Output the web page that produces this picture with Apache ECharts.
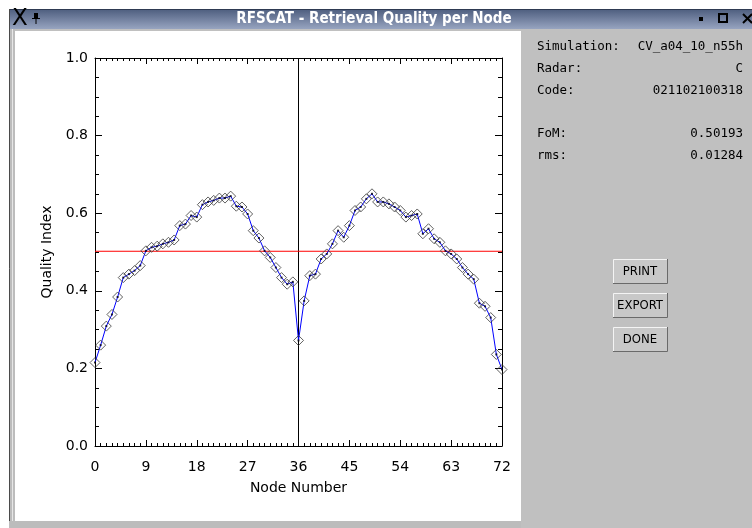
<!DOCTYPE html>
<html>
<head>
<meta charset="utf-8">
<title>RFSCAT - Retrieval Quality per Node</title>
<script src="https://cdn.jsdelivr.net/npm/echarts@6.0.0/dist/echarts.min.js"></script>
<style>
html, body { margin: 0; padding: 0; background: #fff; }
#main { width: 752px; height: 528px; }
</style>
</head>
<body>
<div id="main"></div>
<script>
// node numbers and quality index per node
var nodes = [0, 1, 2, 3, 4, 5, 6, 7, 8, 9, 10, 11, 12, 13, 14, 15, 16, 17, 18,
    19, 20, 21, 22, 23, 24, 25, 26, 27, 28, 29, 30, 31, 32, 33, 34, 35, 36,
    37, 38, 39, 40, 41, 42, 43, 44, 45, 46, 47, 48, 49, 50, 51, 52, 53, 54,
    55, 56, 57, 58, 59, 60, 61, 62, 63, 64, 65, 66, 67, 68, 69, 70, 71, 72];
var quality = [0.215, 0.260, 0.309, 0.339, 0.384, 0.434, 0.443, 0.452, 0.465, 0.503,
    0.512, 0.515, 0.521, 0.525, 0.531, 0.568, 0.572, 0.594, 0.590, 0.622,
    0.629, 0.633, 0.639, 0.639, 0.644, 0.618, 0.616, 0.598, 0.555, 0.536,
    0.503, 0.486, 0.460, 0.434, 0.417, 0.423, 0.272,
    0.374, 0.439, 0.443, 0.482, 0.495, 0.521, 0.555, 0.538, 0.568, 0.607,
    0.616, 0.637, 0.650, 0.629, 0.629, 0.624, 0.616, 0.607, 0.590, 0.594,
    0.598, 0.547, 0.560, 0.534, 0.525, 0.503, 0.495, 0.482, 0.460, 0.443,
    0.430, 0.368, 0.360, 0.331, 0.236, 0.197];

var fom = 0.50193;       // red reference line
var splitNode = 36;      // black vertical line
var xStep = 9;           // x tick labels 0, 9, ... 72
var yStep = 0.2;         // y tick labels 0.0 ... 1.0

var infoLabels = ['Simulation:', 'Radar:', 'Code:', 'FoM:', 'rms:'];
var infoValues = ['CV_a04_10_n55h', 'C', '021102100318', '0.50193', '0.01284'];
var infoRowsY = [47, 69, 91, 134, 156];
var buttons = ['PRINT', 'EXPORT', 'DONE'];

var points = nodes.map(function (n, i) { return [n, quality[i]]; });

var myChart = echarts.init(document.getElementById('main'));

var axisFont = 'DejaVu Sans';
var black = '#000';

// window chrome: title bar, frame, right hand panel
var chrome = [
    { type: 'rect', shape: { x: 9, y: 29, width: 512, height: 2 }, style: { fill: '#c0c0c0' } },
    { type: 'rect', shape: { x: 9, y: 29, width: 6, height: 499 }, style: { fill: '#bcbcbc' } },
    { type: 'line', shape: { x1: 9.5, y1: 9, x2: 9.5, y2: 528 }, style: { stroke: '#4a4a4a', lineWidth: 1 } },
    { type: 'line', shape: { x1: 12.5, y1: 29, x2: 12.5, y2: 528 }, style: { stroke: '#e6e6e6', lineWidth: 1 } },
    { type: 'rect', shape: { x: 9, y: 521, width: 512, height: 7 }, style: { fill: '#bcbcbc' } },
    { type: 'rect', shape: { x: 521, y: 29, width: 231, height: 499 }, style: { fill: '#c0c0c0' } },
    {
        type: 'rect', shape: { x: 10, y: 9, width: 742, height: 20 },
        style: {
            fill: new echarts.graphic.LinearGradient(0, 0, 0, 1, [
                { offset: 0, color: '#4d5d7e' }, { offset: 1, color: '#97a4c0' }
            ])
        }
    },
    { type: 'line', shape: { x1: 10, y1: 9.5, x2: 752, y2: 9.5 }, style: { stroke: '#2e3a52', lineWidth: 1 } },
    {
        type: 'text', x: 374, y: 19,
        style: { text: 'RFSCAT - Retrieval Quality per Node', fill: '#fff', font: 'bold 15px "DejaVu Sans Condensed"', align: 'center', verticalAlign: 'middle' }
    },
    {
        type: 'text', x: 20, y: 19,
        style: { text: 'X', fill: black, font: '23px "DejaVu Sans"', align: 'center', verticalAlign: 'middle' }
    },
    { type: 'rect', shape: { x: 34, y: 13, width: 4, height: 5 }, style: { fill: black } },
    { type: 'line', shape: { x1: 32, y1: 18.5, x2: 40, y2: 18.5 }, style: { stroke: black, lineWidth: 1 } },
    { type: 'line', shape: { x1: 36, y1: 18, x2: 36, y2: 24 }, style: { stroke: black, lineWidth: 1 } },
    { type: 'rect', shape: { x: 699, y: 17, width: 4, height: 4 }, style: { fill: black } },
    { type: 'rect', shape: { x: 719, y: 14, width: 8, height: 8 }, style: { fill: 'none', stroke: black, lineWidth: 2 } },
    { type: 'line', shape: { x1: 743, y1: 14, x2: 752, y2: 23 }, style: { stroke: black, lineWidth: 2 } },
    { type: 'line', shape: { x1: 752, y1: 14, x2: 743, y2: 23 }, style: { stroke: black, lineWidth: 2 } }
];

infoLabels.forEach(function (lab, i) {
    chrome.push({
        type: 'text', x: 537, y: infoRowsY[i],
        style: { text: lab, fill: black, font: '12.5px "DejaVu Sans Mono"', align: 'left', verticalAlign: 'middle' }
    });
    chrome.push({
        type: 'text', x: 743, y: infoRowsY[i],
        style: { text: infoValues[i], fill: black, font: '12.5px "DejaVu Sans Mono"', align: 'right', verticalAlign: 'middle' }
    });
});

buttons.forEach(function (b, i) {
    var y0 = 259 + i * 34;
    chrome.push({ type: 'rect', shape: { x: 613, y: y0, width: 55, height: 25 }, style: { fill: '#c8c8c8' } });
    chrome.push({ type: 'polyline', shape: { points: [[613.5, y0 + 25], [613.5, y0 + 0.5], [668, y0 + 0.5]] }, style: { stroke: '#f4f4f4', lineWidth: 1, fill: 'none' } });
    chrome.push({ type: 'polyline', shape: { points: [[613, y0 + 24.5], [667.5, y0 + 24.5], [667.5, y0]] }, style: { stroke: '#6a6a6a', lineWidth: 1, fill: 'none' } });
    chrome.push({
        type: 'text', x: 640, y: y0 + 13,
        style: { text: b, fill: black, font: '13px "DejaVu Sans Condensed"', align: 'center', verticalAlign: 'middle' }
    });
});

function boxAxis(extra) {
    var base = {
        type: 'value',
        axisLine: { show: true, onZero: false, lineStyle: { color: black, width: 1 } },
        splitLine: { show: false },
        axisLabel: { show: false }
    };
    return Object.assign(base, extra);
}

var option = {
    backgroundColor: '#fff',
    animation: false,
    grid: { left: 95, right: 250, top: 58, bottom: 82 },
    xAxis: [
        boxAxis({
            position: 'bottom', min: 0, max: 72, interval: xStep,
            axisTick: { inside: true, length: 6, lineStyle: { color: black } },
            minorTick: { show: true, splitNumber: 9, length: 3, lineStyle: { color: black } },
            axisLabel: { show: true, color: black, fontFamily: axisFont, fontSize: 14, margin: 14 },
            name: 'Node Number', nameLocation: 'middle', nameGap: 35,
            nameTextStyle: { color: black, fontFamily: axisFont, fontSize: 14 }
        }),
        boxAxis({
            position: 'top', min: 0, max: 72, interval: xStep,
            axisTick: { inside: true, length: 6, lineStyle: { color: black } },
            minorTick: { show: true, splitNumber: 9, length: 3, lineStyle: { color: black } }
        })
    ],
    yAxis: [
        boxAxis({
            position: 'left', min: 0, max: 1, interval: yStep,
            axisTick: { inside: true, length: 7, lineStyle: { color: black } },
            minorTick: { show: true, splitNumber: 4, length: 4, lineStyle: { color: black } },
            axisLabel: {
                show: true, color: black, fontFamily: axisFont, fontSize: 14, margin: 7,
                formatter: function (v) { return v.toFixed(1); }
            },
            name: 'Quality Index', nameLocation: 'middle', nameGap: 40, nameRotate: 90,
            nameTextStyle: { color: black, fontFamily: axisFont, fontSize: 14 }
        }),
        boxAxis({
            position: 'right', min: 0, max: 1, interval: yStep,
            axisTick: { inside: true, length: 7, lineStyle: { color: black } },
            minorTick: { show: true, splitNumber: 4, length: 4, lineStyle: { color: black } }
        })
    ],
    graphic: chrome,
    series: [
        {
            name: 'split', type: 'line', z: 1, symbol: 'none', silent: true,
            data: [[splitNode, 0], [splitNode, 1]],
            lineStyle: { color: black, width: 1 }
        },
        {
            name: 'FoM', type: 'line', z: 1, symbol: 'none', silent: true,
            data: [[0, fom], [72, fom]],
            lineStyle: { color: '#ff0000', width: 1 }
        },
        {
            name: 'quality', type: 'line', z: 2, symbol: 'none',
            data: points,
            lineStyle: { color: '#0000ff', width: 1 }
        },
        {
            name: 'markers', type: 'scatter', z: 3, clip: false,
            symbol: 'diamond', symbolSize: 10,
            data: points,
            itemStyle: { color: 'rgba(0,0,0,0)', borderColor: '#3a3a3a', borderWidth: 1 }
        },
        {
            name: 'dots', type: 'scatter', z: 4, clip: false,
            symbol: 'rect', symbolSize: 2,
            data: points,
            itemStyle: { color: black }
        }
    ]
};

myChart.setOption(option);
</script>
</body>
</html>
